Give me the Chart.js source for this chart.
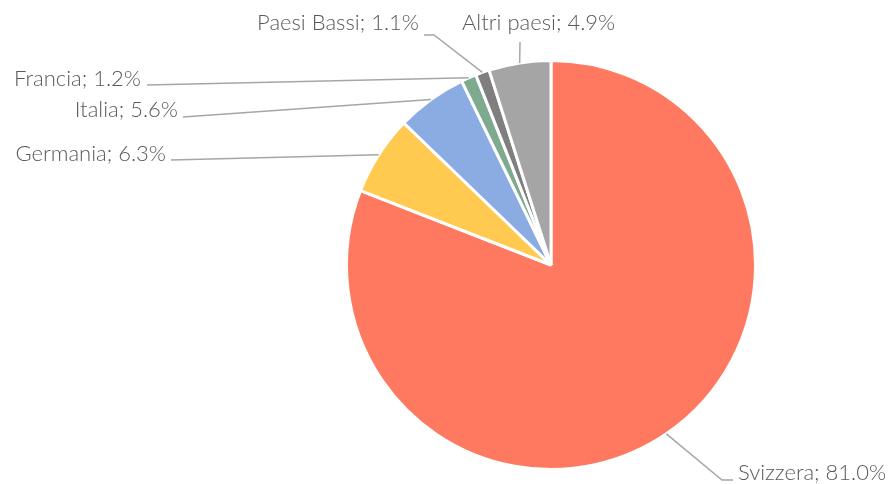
<!DOCTYPE html>
<html>
<head>
<meta charset="utf-8">
<script src="https://cdn.jsdelivr.net/npm/chart.js@4/dist/chart.umd.min.js"></script>
<style>
html,body{margin:0;padding:0;background:#fff;}
canvas{display:block;}
</style>
</head>
<body>
<canvas id="c" width="888" height="484"></canvas>
<script>
const categories = ["Svizzera", "Germania", "Italia", "Francia", "Paesi Bassi", "Altri paesi"];
const shares = [81.0, 6.3, 5.6, 1.2, 1.1, 4.9];
const valueLabels = ["81.0%", "6.3%", "5.6%", "1.2%", "1.1%", "4.9%"];
const colors = ["#FF7961", "#FFCA4F", "#8BACE3", "#7EAA8F", "#7F7F7F", "#A5A5A5"];

// label layout (leader line waypoints + text anchor), per category
const labelLayout = [
  {pts: [[722, 480], [733, 480]], tx: 738, ty: 480, align: "left"},
  {pts: [[171, 160]], tx: 166, ty: 161, align: "right"},
  {pts: [[183, 117]], tx: 178, ty: 117, align: "right"},
  {pts: [[147, 85]], tx: 141, ty: 86, align: "right"},
  {pts: [[434, 35], [424, 35]], tx: 419, ty: 30, align: "right"},
  {pts: [[520, 42]], tx: 462, ty: 30, align: "left"}
];

const leaderPlugin = {
  id: "leaders",
  afterDatasetsDraw(chart) {
    const ctx = chart.ctx;
    const meta = chart.getDatasetMeta(0);
    ctx.save();
    meta.data.forEach((arc, i) => {
      const p = arc.getProps(["x", "y", "startAngle", "endAngle", "outerRadius"], true);
      const mid = (p.startAngle + p.endAngle) / 2;
      const ex = p.x + Math.cos(mid) * p.outerRadius;
      const ey = p.y + Math.sin(mid) * p.outerRadius;
      const L = labelLayout[i];
      ctx.beginPath();
      ctx.moveTo(ex, ey);
      L.pts.forEach(q => ctx.lineTo(q[0], q[1]));
      ctx.strokeStyle = "#A6A6A6";
      ctx.lineWidth = 1.5;
      ctx.stroke();
      ctx.fillStyle = "#595959";
      ctx.font = "300 22px Lato, 'Open Sans', sans-serif";
      ctx.textAlign = L.align;
      ctx.textBaseline = "alphabetic";
      ctx.fillText(categories[i] + "; " + valueLabels[i], L.tx, L.ty);
    });
    ctx.restore();
  }
};

new Chart(document.getElementById("c"), {
  type: "pie",
  data: {
    labels: categories,
    datasets: [{
      data: shares,
      backgroundColor: colors,
      borderColor: "#FFFFFF",
      borderWidth: 3
    }]
  },
  options: {
    responsive: false,
    animation: false,
    devicePixelRatio: 1,
    layout: {padding: {left: 345, right: 131, top: 59, bottom: 13}},
    plugins: {legend: {display: false}, tooltip: {enabled: false}}
  },
  plugins: [leaderPlugin]
});
</script>
</body>
</html>
